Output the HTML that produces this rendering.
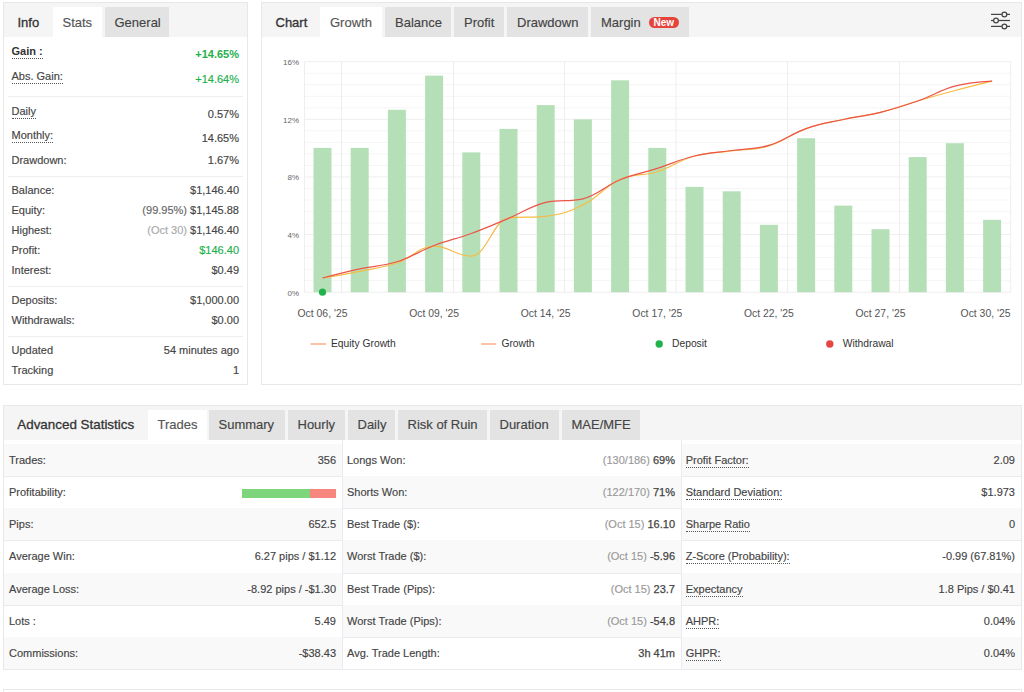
<!DOCTYPE html>
<html><head><meta charset="utf-8"><style>
html,body{margin:0;padding:0;background:#fff;width:1024px;height:692px;overflow:hidden;font-family:"Liberation Sans", sans-serif;}
.t{position:absolute;line-height:1;white-space:nowrap;}
svg text{font-family:"Liberation Sans", sans-serif;}
</style></head><body>
<div style="position:absolute;left:3px;top:2px;width:245px;height:383px;border:1px solid #e8e8e8;box-sizing:border-box;background:#fff"></div>
<div style="position:absolute;left:4px;top:3px;width:243px;height:34px;background:#f5f5f5"></div>
<div style="position:absolute;left:53px;top:7px;width:49px;height:30px;background:#fff"></div>
<div style="position:absolute;left:105px;top:7px;width:64px;height:30px;background:#e3e3e3"></div>
<div class="t" style="left:17.5px;top:15.50px;font-size:13px;color:#333;font-weight:normal;;-webkit-text-stroke-width:0.3px">Info</div>
<div class="t" style="left:62.5px;top:15.50px;font-size:13px;color:#555;font-weight:normal;;-webkit-text-stroke-width:0.15px">Stats</div>
<div class="t" style="left:114.5px;top:15.50px;font-size:13px;color:#444;font-weight:normal;;-webkit-text-stroke-width:0.15px">General</div>
<div class="t" style="left:11.5px;top:46.30px;font-size:11px;color:#333;font-weight:bold;"><span style="border-bottom:1px dotted #555;padding-bottom:1px">Gain :</span></div>
<div class="t" style="right:785px;top:49.20px;font-size:11px;color:#20b14a;font-weight:bold;">+14.65%</div>
<div class="t" style="left:11.5px;top:71.30px;font-size:11px;color:#444;font-weight:normal;;-webkit-text-stroke-width:0.15px"><span style="border-bottom:1px dotted #555;padding-bottom:1px">Abs. Gain:</span></div>
<div class="t" style="right:785px;top:73.80px;font-size:11px;color:#20b14a;font-weight:normal;;-webkit-text-stroke-width:0.15px">+14.64%</div>
<div style="position:absolute;left:8px;top:96px;width:235px;height:1px;background:#eee"></div>
<div class="t" style="left:11.5px;top:105.90px;font-size:11px;color:#444;font-weight:normal;;-webkit-text-stroke-width:0.15px"><span style="border-bottom:1px dotted #555;padding-bottom:1px">Daily</span></div>
<div class="t" style="right:785px;top:109.30px;font-size:11px;color:#444;font-weight:normal;;-webkit-text-stroke-width:0.15px">0.57%</div>
<div class="t" style="left:11.5px;top:129.90px;font-size:11px;color:#444;font-weight:normal;;-webkit-text-stroke-width:0.15px"><span style="border-bottom:1px dotted #555;padding-bottom:1px">Monthly:</span></div>
<div class="t" style="right:785px;top:133.30px;font-size:11px;color:#444;font-weight:normal;;-webkit-text-stroke-width:0.15px">14.65%</div>
<div class="t" style="left:11.5px;top:155.00px;font-size:11px;color:#444;font-weight:normal;;-webkit-text-stroke-width:0.15px">Drawdown:</div>
<div class="t" style="right:785px;top:155.00px;font-size:11px;color:#444;font-weight:normal;;-webkit-text-stroke-width:0.15px">1.67%</div>
<div style="position:absolute;left:8px;top:176px;width:235px;height:1px;background:#eee"></div>
<div class="t" style="left:11.5px;top:185.30px;font-size:11px;color:#444;font-weight:normal;;-webkit-text-stroke-width:0.15px">Balance:</div>
<div class="t" style="right:785px;top:185.30px;font-size:11px;color:#444;font-weight:normal;;-webkit-text-stroke-width:0.15px">$1,146.40</div>
<div class="t" style="left:11.5px;top:205.30px;font-size:11px;color:#444;font-weight:normal;;-webkit-text-stroke-width:0.15px">Equity:</div>
<div class="t" style="right:785px;top:205.30px;font-size:11px;color:#444;font-weight:normal;;-webkit-text-stroke-width:0.15px"><span style="color:#666">(99.95%)</span> $1,145.88</div>
<div class="t" style="left:11.5px;top:225.30px;font-size:11px;color:#444;font-weight:normal;;-webkit-text-stroke-width:0.15px">Highest:</div>
<div class="t" style="right:785px;top:225.30px;font-size:11px;color:#444;font-weight:normal;;-webkit-text-stroke-width:0.15px"><span style="color:#aaa">(Oct 30)</span> $1,146.40</div>
<div class="t" style="left:11.5px;top:245.30px;font-size:11px;color:#444;font-weight:normal;;-webkit-text-stroke-width:0.15px">Profit:</div>
<div class="t" style="right:785px;top:245.30px;font-size:11px;color:#444;font-weight:normal;;-webkit-text-stroke-width:0.15px"><span style="color:#20b14a">$146.40</span></div>
<div class="t" style="left:11.5px;top:265.30px;font-size:11px;color:#444;font-weight:normal;;-webkit-text-stroke-width:0.15px">Interest:</div>
<div class="t" style="right:785px;top:265.30px;font-size:11px;color:#444;font-weight:normal;;-webkit-text-stroke-width:0.15px">$0.49</div>
<div style="position:absolute;left:8px;top:286px;width:235px;height:1px;background:#eee"></div>
<div class="t" style="left:11.5px;top:295.20px;font-size:11px;color:#444;font-weight:normal;;-webkit-text-stroke-width:0.15px">Deposits:</div>
<div class="t" style="right:785px;top:295.20px;font-size:11px;color:#444;font-weight:normal;;-webkit-text-stroke-width:0.15px">$1,000.00</div>
<div class="t" style="left:11.5px;top:315.20px;font-size:11px;color:#444;font-weight:normal;;-webkit-text-stroke-width:0.15px">Withdrawals:</div>
<div class="t" style="right:785px;top:315.20px;font-size:11px;color:#444;font-weight:normal;;-webkit-text-stroke-width:0.15px">$0.00</div>
<div style="position:absolute;left:8px;top:336px;width:235px;height:1px;background:#eee"></div>
<div class="t" style="left:11.5px;top:345.40px;font-size:11px;color:#444;font-weight:normal;;-webkit-text-stroke-width:0.15px">Updated</div>
<div class="t" style="right:785px;top:345.40px;font-size:11px;color:#444;font-weight:normal;;-webkit-text-stroke-width:0.15px">54 minutes ago</div>
<div class="t" style="left:11.5px;top:365.40px;font-size:11px;color:#444;font-weight:normal;;-webkit-text-stroke-width:0.15px">Tracking</div>
<div class="t" style="right:785px;top:365.40px;font-size:11px;color:#444;font-weight:normal;;-webkit-text-stroke-width:0.15px">1</div>
<div style="position:absolute;left:261px;top:2px;width:761px;height:383px;border:1px solid #e8e8e8;box-sizing:border-box;background:#fff"></div>
<div style="position:absolute;left:262px;top:3px;width:759px;height:34px;background:#f5f5f5"></div>
<div class="t" style="left:275.5px;top:15.50px;font-size:13px;color:#333;font-weight:normal;;-webkit-text-stroke-width:0.3px">Chart</div>
<div style="position:absolute;left:320px;top:7px;width:62px;height:30px;background:#fff"></div>
<div class="t" style="left:330px;top:15.50px;font-size:13px;color:#555;font-weight:normal;;-webkit-text-stroke-width:0.15px">Growth</div>
<div style="position:absolute;left:385px;top:7px;width:66px;height:30px;background:#e3e3e3"></div>
<div class="t" style="left:395px;top:15.50px;font-size:13px;color:#444;font-weight:normal;;-webkit-text-stroke-width:0.15px">Balance</div>
<div style="position:absolute;left:454px;top:7px;width:50px;height:30px;background:#e3e3e3"></div>
<div class="t" style="left:464px;top:15.50px;font-size:13px;color:#444;font-weight:normal;;-webkit-text-stroke-width:0.15px">Profit</div>
<div style="position:absolute;left:507px;top:7px;width:81px;height:30px;background:#e3e3e3"></div>
<div class="t" style="left:517px;top:15.50px;font-size:13px;color:#444;font-weight:normal;;-webkit-text-stroke-width:0.15px">Drawdown</div>
<div style="position:absolute;left:591px;top:7px;width:98px;height:30px;background:#e3e3e3"></div>
<div class="t" style="left:601px;top:15.50px;font-size:13px;color:#444;font-weight:normal;;-webkit-text-stroke-width:0.15px">Margin</div>
<div style="position:absolute;left:649px;top:17px;width:30px;height:11px;background:#e5443d;border-radius:6px"></div>
<div class="t" style="left:653.5px;top:18.40px;font-size:10px;color:#fff;font-weight:bold;">New</div>
<svg style="position:absolute;left:988px;top:9px" width="24" height="22" viewBox="988 9 24 22">
<g stroke="#444" stroke-width="1.25" fill="none">
<line x1="991" y1="14.4" x2="1001.8" y2="14.4"/><line x1="1007" y1="14.4" x2="1010" y2="14.4"/>
<line x1="991" y1="20.5" x2="993.4" y2="20.5"/><line x1="998.6" y1="20.5" x2="1010" y2="20.5"/>
<line x1="991" y1="26.4" x2="1001.8" y2="26.4"/><line x1="1007" y1="26.4" x2="1010" y2="26.4"/>
<circle cx="1004.4" cy="14.4" r="2.4"/><circle cx="996" cy="20.5" r="2.4"/><circle cx="1004.4" cy="26.4" r="2.4"/>
</g></svg>
<svg style="position:absolute;left:0;top:0" width="1024" height="692" viewBox="0 0 1024 692">
<line x1="304.5" y1="292.20" x2="1011" y2="292.20" stroke="#eeeeee" stroke-width="1"/>
<line x1="304.5" y1="280.68" x2="1011" y2="280.68" stroke="#f5f5f5" stroke-width="1"/>
<line x1="304.5" y1="269.15" x2="1011" y2="269.15" stroke="#f5f5f5" stroke-width="1"/>
<line x1="304.5" y1="257.62" x2="1011" y2="257.62" stroke="#f5f5f5" stroke-width="1"/>
<line x1="304.5" y1="246.10" x2="1011" y2="246.10" stroke="#f5f5f5" stroke-width="1"/>
<line x1="304.5" y1="234.57" x2="1011" y2="234.57" stroke="#eeeeee" stroke-width="1"/>
<line x1="304.5" y1="223.05" x2="1011" y2="223.05" stroke="#f5f5f5" stroke-width="1"/>
<line x1="304.5" y1="211.52" x2="1011" y2="211.52" stroke="#f5f5f5" stroke-width="1"/>
<line x1="304.5" y1="200.00" x2="1011" y2="200.00" stroke="#f5f5f5" stroke-width="1"/>
<line x1="304.5" y1="188.47" x2="1011" y2="188.47" stroke="#f5f5f5" stroke-width="1"/>
<line x1="304.5" y1="176.95" x2="1011" y2="176.95" stroke="#eeeeee" stroke-width="1"/>
<line x1="304.5" y1="165.42" x2="1011" y2="165.42" stroke="#f5f5f5" stroke-width="1"/>
<line x1="304.5" y1="153.90" x2="1011" y2="153.90" stroke="#f5f5f5" stroke-width="1"/>
<line x1="304.5" y1="142.37" x2="1011" y2="142.37" stroke="#f5f5f5" stroke-width="1"/>
<line x1="304.5" y1="130.85" x2="1011" y2="130.85" stroke="#f5f5f5" stroke-width="1"/>
<line x1="304.5" y1="119.32" x2="1011" y2="119.32" stroke="#eeeeee" stroke-width="1"/>
<line x1="304.5" y1="107.80" x2="1011" y2="107.80" stroke="#f5f5f5" stroke-width="1"/>
<line x1="304.5" y1="96.27" x2="1011" y2="96.27" stroke="#f5f5f5" stroke-width="1"/>
<line x1="304.5" y1="84.75" x2="1011" y2="84.75" stroke="#f5f5f5" stroke-width="1"/>
<line x1="304.5" y1="73.22" x2="1011" y2="73.22" stroke="#f5f5f5" stroke-width="1"/>
<line x1="304.5" y1="61.70" x2="1011" y2="61.70" stroke="#eeeeee" stroke-width="1"/>
<line x1="304.50" y1="61.7" x2="304.50" y2="292.2" stroke="#eeeeee" stroke-width="1"/>
<line x1="341.50" y1="61.7" x2="341.50" y2="292.2" stroke="#eeeeee" stroke-width="1"/>
<line x1="453.50" y1="61.7" x2="453.50" y2="292.2" stroke="#eeeeee" stroke-width="1"/>
<line x1="564.50" y1="61.7" x2="564.50" y2="292.2" stroke="#eeeeee" stroke-width="1"/>
<line x1="676.00" y1="61.7" x2="676.00" y2="292.2" stroke="#eeeeee" stroke-width="1"/>
<line x1="787.50" y1="61.7" x2="787.50" y2="292.2" stroke="#eeeeee" stroke-width="1"/>
<line x1="899.50" y1="61.7" x2="899.50" y2="292.2" stroke="#eeeeee" stroke-width="1"/>
<line x1="1010.70" y1="61.7" x2="1010.70" y2="292.2" stroke="#eeeeee" stroke-width="1"/>
<rect x="313.50" y="147.9" width="18" height="144.30" fill="#b5e0b7"/>
<rect x="350.70" y="147.9" width="18" height="144.30" fill="#b5e0b7"/>
<rect x="387.90" y="109.8" width="18" height="182.40" fill="#b5e0b7"/>
<rect x="425.10" y="75.6" width="18" height="216.60" fill="#b5e0b7"/>
<rect x="462.30" y="152.4" width="18" height="139.80" fill="#b5e0b7"/>
<rect x="499.50" y="128.9" width="18" height="163.30" fill="#b5e0b7"/>
<rect x="536.70" y="105.1" width="18" height="187.10" fill="#b5e0b7"/>
<rect x="573.90" y="119.4" width="18" height="172.80" fill="#b5e0b7"/>
<rect x="611.10" y="80.3" width="18" height="211.90" fill="#b5e0b7"/>
<rect x="648.30" y="147.9" width="18" height="144.30" fill="#b5e0b7"/>
<rect x="685.50" y="186.9" width="18" height="105.30" fill="#b5e0b7"/>
<rect x="722.70" y="191.3" width="18" height="100.90" fill="#b5e0b7"/>
<rect x="759.90" y="224.8" width="18" height="67.40" fill="#b5e0b7"/>
<rect x="797.10" y="138.2" width="18" height="154.00" fill="#b5e0b7"/>
<rect x="834.30" y="205.6" width="18" height="86.60" fill="#b5e0b7"/>
<rect x="871.50" y="229.2" width="18" height="63.00" fill="#b5e0b7"/>
<rect x="908.70" y="157.1" width="18" height="135.10" fill="#b5e0b7"/>
<rect x="945.90" y="143.2" width="18" height="149.00" fill="#b5e0b7"/>
<rect x="983.10" y="219.8" width="18" height="72.40" fill="#b5e0b7"/>
<path d="M322.50,278.00 C322.50,278.00 344.82,274.30 359.70,271.30 C374.58,268.30 382.02,268.02 396.90,263.00 C411.78,257.98 419.22,246.20 434.10,246.20 C448.98,246.20 456.42,256.20 471.30,256.20 C486.18,256.20 493.62,219.70 508.50,218.00 C523.38,216.30 530.82,218.00 545.70,216.30 C560.58,214.60 568.02,212.36 582.90,205.00 C597.78,197.64 605.22,186.16 620.10,179.50 C634.98,172.84 642.42,176.40 657.30,171.70 C672.18,167.00 679.62,160.14 694.50,156.00 C709.38,151.86 716.82,153.00 731.70,151.00 C746.58,149.00 754.02,150.48 768.90,146.00 C783.78,141.52 791.22,133.90 806.10,128.60 C820.98,123.30 828.42,122.76 843.30,119.50 C858.18,116.24 865.62,116.00 880.50,112.30 C895.38,108.60 902.82,105.36 917.70,101.00 C932.58,96.64 940.02,94.48 954.90,90.50 C969.78,86.52 992.10,81.10 992.10,81.10" stroke="#f6bb45" stroke-width="1.2" fill="none"/>
<path d="M322.50,278.00 C322.50,278.00 344.82,272.14 359.70,268.90 C374.58,265.66 382.02,266.48 396.90,261.80 C411.78,257.12 419.22,251.16 434.10,245.50 C448.98,239.84 456.42,238.92 471.30,233.50 C486.18,228.08 493.62,224.64 508.50,218.40 C523.38,212.16 530.82,205.80 545.70,202.30 C560.58,198.80 568.02,202.30 582.90,198.80 C597.78,195.30 605.22,185.88 620.10,179.80 C634.98,173.72 642.42,173.16 657.30,168.40 C672.18,163.64 679.62,159.58 694.50,156.00 C709.38,152.42 716.82,152.62 731.70,150.50 C746.58,148.38 754.02,149.78 768.90,145.40 C783.78,141.02 791.22,133.78 806.10,128.60 C820.98,123.42 828.42,122.76 843.30,119.50 C858.18,116.24 865.62,116.00 880.50,112.30 C895.38,108.60 902.82,106.22 917.70,101.00 C932.58,95.78 940.02,90.18 954.90,86.20 C969.78,82.22 992.10,81.10 992.10,81.10" stroke="#ec5548" stroke-width="1.2" fill="none"/>
<circle cx="322.5" cy="292.2" r="3.6" fill="#22b24c"/>
<text x="299" y="295.60" text-anchor="end" font-size="8" fill="#666">0%</text>
<text x="299" y="237.97" text-anchor="end" font-size="8" fill="#666">4%</text>
<text x="299" y="180.35" text-anchor="end" font-size="8" fill="#666">8%</text>
<text x="299" y="122.72" text-anchor="end" font-size="8" fill="#666">12%</text>
<text x="299" y="65.10" text-anchor="end" font-size="8" fill="#666">16%</text>
<text x="322.50" y="317" text-anchor="middle" font-size="10.4" fill="#555">Oct 06, '25</text>
<text x="434.10" y="317" text-anchor="middle" font-size="10.4" fill="#555">Oct 09, '25</text>
<text x="545.70" y="317" text-anchor="middle" font-size="10.4" fill="#555">Oct 14, '25</text>
<text x="657.30" y="317" text-anchor="middle" font-size="10.4" fill="#555">Oct 17, '25</text>
<text x="768.90" y="317" text-anchor="middle" font-size="10.4" fill="#555">Oct 22, '25</text>
<text x="880.50" y="317" text-anchor="middle" font-size="10.4" fill="#555">Oct 27, '25</text>
<text x="1010.5" y="317" text-anchor="end" font-size="10.4" fill="#555">Oct 30, '25</text>
<line x1="310.7" y1="344" x2="326" y2="344" stroke="#fbc3a3" stroke-width="2"/>
<text x="331" y="347" font-size="10.3" fill="#333">Equity Growth</text>
<line x1="481.2" y1="344" x2="496.2" y2="344" stroke="#fbc3a3" stroke-width="2"/>
<text x="501.4" y="347" font-size="10.3" fill="#333">Growth</text>
<circle cx="659.2" cy="344" r="3.7" fill="#22b24c"/>
<text x="672" y="347" font-size="10.3" fill="#333">Deposit</text>
<circle cx="829.8" cy="344" r="3.7" fill="#e84444"/>
<text x="842.7" y="347" font-size="10.3" fill="#333">Withdrawal</text>
</svg>
<div style="position:absolute;left:3px;top:405px;width:1019px;height:265px;border:1px solid #e8e8e8;box-sizing:border-box;background:#fff"></div>
<div style="position:absolute;left:4px;top:406px;width:1017px;height:34px;background:#f5f5f5"></div>
<div class="t" style="left:17.3px;top:418.10px;font-size:13.4px;color:#333;font-weight:normal;;-webkit-text-stroke-width:0.3px">Advanced Statistics</div>
<div style="position:absolute;left:148px;top:410px;width:59px;height:30px;background:#fff"></div>
<div class="t" style="left:157.5px;top:418.30px;font-size:13px;color:#555;font-weight:normal;;-webkit-text-stroke-width:0.15px">Trades</div>
<div style="position:absolute;left:209px;top:410px;width:76px;height:30px;background:#e3e3e3"></div>
<div class="t" style="left:218.5px;top:418.30px;font-size:13px;color:#444;font-weight:normal;;-webkit-text-stroke-width:0.15px">Summary</div>
<div style="position:absolute;left:288px;top:410px;width:56.5px;height:30px;background:#e3e3e3"></div>
<div class="t" style="left:297.5px;top:418.30px;font-size:13px;color:#444;font-weight:normal;;-webkit-text-stroke-width:0.15px">Hourly</div>
<div style="position:absolute;left:348px;top:410px;width:47px;height:30px;background:#e3e3e3"></div>
<div class="t" style="left:357.5px;top:418.30px;font-size:13px;color:#444;font-weight:normal;;-webkit-text-stroke-width:0.15px">Daily</div>
<div style="position:absolute;left:398px;top:410px;width:88.5px;height:30px;background:#e3e3e3"></div>
<div class="t" style="left:407.5px;top:418.30px;font-size:13px;color:#444;font-weight:normal;;-webkit-text-stroke-width:0.15px">Risk of Ruin</div>
<div style="position:absolute;left:490px;top:410px;width:68.5px;height:30px;background:#e3e3e3"></div>
<div class="t" style="left:499.5px;top:418.30px;font-size:13px;color:#444;font-weight:normal;;-webkit-text-stroke-width:0.15px">Duration</div>
<div style="position:absolute;left:562px;top:410px;width:78px;height:30px;background:#e3e3e3"></div>
<div class="t" style="left:571.5px;top:418.30px;font-size:13px;color:#444;font-weight:normal;;-webkit-text-stroke-width:0.15px">MAE/MFE</div>
<div style="position:absolute;left:4px;top:443.8px;width:337.5px;height:32.2px;background:#f9f9f9"></div>
<div style="position:absolute;left:681px;top:443.8px;width:340px;height:32.2px;background:#f9f9f9"></div>
<div style="position:absolute;left:4px;top:476.0px;width:1017px;height:1px;background:#e8ebf0"></div>
<div style="position:absolute;left:342px;top:476.0px;width:339px;height:32.2px;background:#f9f9f9"></div>
<div style="position:absolute;left:4px;top:508.2px;width:1017px;height:1px;background:#e8ebf0"></div>
<div style="position:absolute;left:4px;top:508.20000000000005px;width:337.5px;height:32.2px;background:#f9f9f9"></div>
<div style="position:absolute;left:681px;top:508.20000000000005px;width:340px;height:32.2px;background:#f9f9f9"></div>
<div style="position:absolute;left:4px;top:540.4000000000001px;width:1017px;height:1px;background:#e8ebf0"></div>
<div style="position:absolute;left:342px;top:540.4px;width:339px;height:32.2px;background:#f9f9f9"></div>
<div style="position:absolute;left:4px;top:572.6px;width:1017px;height:1px;background:#e8ebf0"></div>
<div style="position:absolute;left:4px;top:572.6px;width:337.5px;height:32.2px;background:#f9f9f9"></div>
<div style="position:absolute;left:681px;top:572.6px;width:340px;height:32.2px;background:#f9f9f9"></div>
<div style="position:absolute;left:4px;top:604.8000000000001px;width:1017px;height:1px;background:#e8ebf0"></div>
<div style="position:absolute;left:342px;top:604.8px;width:339px;height:32.2px;background:#f9f9f9"></div>
<div style="position:absolute;left:4px;top:637.0px;width:1017px;height:1px;background:#e8ebf0"></div>
<div style="position:absolute;left:4px;top:637.0px;width:337.5px;height:32.2px;background:#f9f9f9"></div>
<div style="position:absolute;left:681px;top:637.0px;width:340px;height:32.2px;background:#f9f9f9"></div>
<div style="position:absolute;left:4px;top:669.2px;width:1017px;height:1px;background:#e8ebf0"></div>
<div style="position:absolute;left:341.5px;top:440px;width:1px;height:229px;background:#e8ebf0"></div>
<div style="position:absolute;left:680.5px;top:440px;width:1px;height:229px;background:#e8ebf0"></div>
<div class="t" style="left:9px;top:454.80px;font-size:11px;color:#444;font-weight:normal;;-webkit-text-stroke-width:0.15px">Trades:</div>
<div class="t" style="right:688px;top:454.80px;font-size:11px;color:#444;font-weight:normal;;-webkit-text-stroke-width:0.15px">356</div>
<div class="t" style="left:347px;top:454.80px;font-size:11px;color:#444;font-weight:normal;;-webkit-text-stroke-width:0.15px">Longs Won:</div>
<div class="t" style="right:349px;top:454.80px;font-size:11px;color:#444;font-weight:normal;;-webkit-text-stroke-width:0.15px"><span style="color:#999">(130/186)</span> <span style="-webkit-text-stroke-width:0.25px">69%</span></div>
<div class="t" style="left:685.7px;top:454.80px;font-size:11px;color:#444;font-weight:normal;;-webkit-text-stroke-width:0.15px"><span style="border-bottom:1px dotted #555;padding-bottom:1px">Profit Factor:</span></div>
<div class="t" style="right:9px;top:454.80px;font-size:11px;color:#444;font-weight:normal;;-webkit-text-stroke-width:0.15px">2.09</div>
<div class="t" style="left:9px;top:487.00px;font-size:11px;color:#444;font-weight:normal;;-webkit-text-stroke-width:0.15px">Profitability:</div>
<div class="t" style="left:347px;top:487.00px;font-size:11px;color:#444;font-weight:normal;;-webkit-text-stroke-width:0.15px">Shorts Won:</div>
<div class="t" style="right:349px;top:487.00px;font-size:11px;color:#444;font-weight:normal;;-webkit-text-stroke-width:0.15px"><span style="color:#999">(122/170)</span> <span style="-webkit-text-stroke-width:0.25px">71%</span></div>
<div class="t" style="left:685.7px;top:487.00px;font-size:11px;color:#444;font-weight:normal;;-webkit-text-stroke-width:0.15px"><span style="border-bottom:1px dotted #555;padding-bottom:1px">Standard Deviation:</span></div>
<div class="t" style="right:9px;top:487.00px;font-size:11px;color:#444;font-weight:normal;;-webkit-text-stroke-width:0.15px">$1.973</div>
<div class="t" style="left:9px;top:519.20px;font-size:11px;color:#444;font-weight:normal;;-webkit-text-stroke-width:0.15px">Pips:</div>
<div class="t" style="right:688px;top:519.20px;font-size:11px;color:#444;font-weight:normal;;-webkit-text-stroke-width:0.15px">652.5</div>
<div class="t" style="left:347px;top:519.20px;font-size:11px;color:#444;font-weight:normal;;-webkit-text-stroke-width:0.15px">Best Trade ($):</div>
<div class="t" style="right:349px;top:519.20px;font-size:11px;color:#444;font-weight:normal;;-webkit-text-stroke-width:0.15px"><span style="color:#999">(Oct 15)</span> <span style="-webkit-text-stroke-width:0.25px">16.10</span></div>
<div class="t" style="left:685.7px;top:519.20px;font-size:11px;color:#444;font-weight:normal;;-webkit-text-stroke-width:0.15px"><span style="border-bottom:1px dotted #555;padding-bottom:1px">Sharpe Ratio</span></div>
<div class="t" style="right:9px;top:519.20px;font-size:11px;color:#444;font-weight:normal;;-webkit-text-stroke-width:0.15px">0</div>
<div class="t" style="left:9px;top:551.40px;font-size:11px;color:#444;font-weight:normal;;-webkit-text-stroke-width:0.15px">Average Win:</div>
<div class="t" style="right:688px;top:551.40px;font-size:11px;color:#444;font-weight:normal;;-webkit-text-stroke-width:0.15px">6.27 pips / $1.12</div>
<div class="t" style="left:347px;top:551.40px;font-size:11px;color:#444;font-weight:normal;;-webkit-text-stroke-width:0.15px">Worst Trade ($):</div>
<div class="t" style="right:349px;top:551.40px;font-size:11px;color:#444;font-weight:normal;;-webkit-text-stroke-width:0.15px"><span style="color:#999">(Oct 15)</span> <span style="-webkit-text-stroke-width:0.25px">-5.96</span></div>
<div class="t" style="left:685.7px;top:551.40px;font-size:11px;color:#444;font-weight:normal;;-webkit-text-stroke-width:0.15px"><span style="border-bottom:1px dotted #555;padding-bottom:1px">Z-Score (Probability):</span></div>
<div class="t" style="right:9px;top:551.40px;font-size:11px;color:#444;font-weight:normal;;-webkit-text-stroke-width:0.15px">-0.99 (67.81%)</div>
<div class="t" style="left:9px;top:583.60px;font-size:11px;color:#444;font-weight:normal;;-webkit-text-stroke-width:0.15px">Average Loss:</div>
<div class="t" style="right:688px;top:583.60px;font-size:11px;color:#444;font-weight:normal;;-webkit-text-stroke-width:0.15px">-8.92 pips / -$1.30</div>
<div class="t" style="left:347px;top:583.60px;font-size:11px;color:#444;font-weight:normal;;-webkit-text-stroke-width:0.15px">Best Trade (Pips):</div>
<div class="t" style="right:349px;top:583.60px;font-size:11px;color:#444;font-weight:normal;;-webkit-text-stroke-width:0.15px"><span style="color:#999">(Oct 15)</span> <span style="-webkit-text-stroke-width:0.25px">23.7</span></div>
<div class="t" style="left:685.7px;top:583.60px;font-size:11px;color:#444;font-weight:normal;;-webkit-text-stroke-width:0.15px"><span style="border-bottom:1px dotted #555;padding-bottom:1px">Expectancy</span></div>
<div class="t" style="right:9px;top:583.60px;font-size:11px;color:#444;font-weight:normal;;-webkit-text-stroke-width:0.15px">1.8 Pips / $0.41</div>
<div class="t" style="left:9px;top:615.80px;font-size:11px;color:#444;font-weight:normal;;-webkit-text-stroke-width:0.15px">Lots :</div>
<div class="t" style="right:688px;top:615.80px;font-size:11px;color:#444;font-weight:normal;;-webkit-text-stroke-width:0.15px">5.49</div>
<div class="t" style="left:347px;top:615.80px;font-size:11px;color:#444;font-weight:normal;;-webkit-text-stroke-width:0.15px">Worst Trade (Pips):</div>
<div class="t" style="right:349px;top:615.80px;font-size:11px;color:#444;font-weight:normal;;-webkit-text-stroke-width:0.15px"><span style="color:#999">(Oct 15)</span> <span style="-webkit-text-stroke-width:0.25px">-54.8</span></div>
<div class="t" style="left:685.7px;top:615.80px;font-size:11px;color:#444;font-weight:normal;;-webkit-text-stroke-width:0.15px"><span style="border-bottom:1px dotted #555;padding-bottom:1px">AHPR:</span></div>
<div class="t" style="right:9px;top:615.80px;font-size:11px;color:#444;font-weight:normal;;-webkit-text-stroke-width:0.15px">0.04%</div>
<div class="t" style="left:9px;top:648.00px;font-size:11px;color:#444;font-weight:normal;;-webkit-text-stroke-width:0.15px">Commissions:</div>
<div class="t" style="right:688px;top:648.00px;font-size:11px;color:#444;font-weight:normal;;-webkit-text-stroke-width:0.15px">-$38.43</div>
<div class="t" style="left:347px;top:648.00px;font-size:11px;color:#444;font-weight:normal;;-webkit-text-stroke-width:0.15px">Avg. Trade Length:</div>
<div class="t" style="right:349px;top:648.00px;font-size:11px;color:#444;font-weight:normal;;-webkit-text-stroke-width:0.15px"><span style="-webkit-text-stroke-width:0.25px">3h 41m</span></div>
<div class="t" style="left:685.7px;top:648.00px;font-size:11px;color:#444;font-weight:normal;;-webkit-text-stroke-width:0.15px"><span style="border-bottom:1px dotted #555;padding-bottom:1px">GHPR:</span></div>
<div class="t" style="right:9px;top:648.00px;font-size:11px;color:#444;font-weight:normal;;-webkit-text-stroke-width:0.15px">0.04%</div>
<div style="position:absolute;left:242px;top:488.5px;width:68px;height:9px;background:#7dd67b"></div>
<div style="position:absolute;left:310px;top:488.5px;width:26px;height:9px;background:#f7867f"></div>
<div style="position:absolute;left:3px;top:689px;width:1019px;height:10px;border:1px solid #e8e8e8;box-sizing:border-box;background:#fff"></div>
</body></html>
